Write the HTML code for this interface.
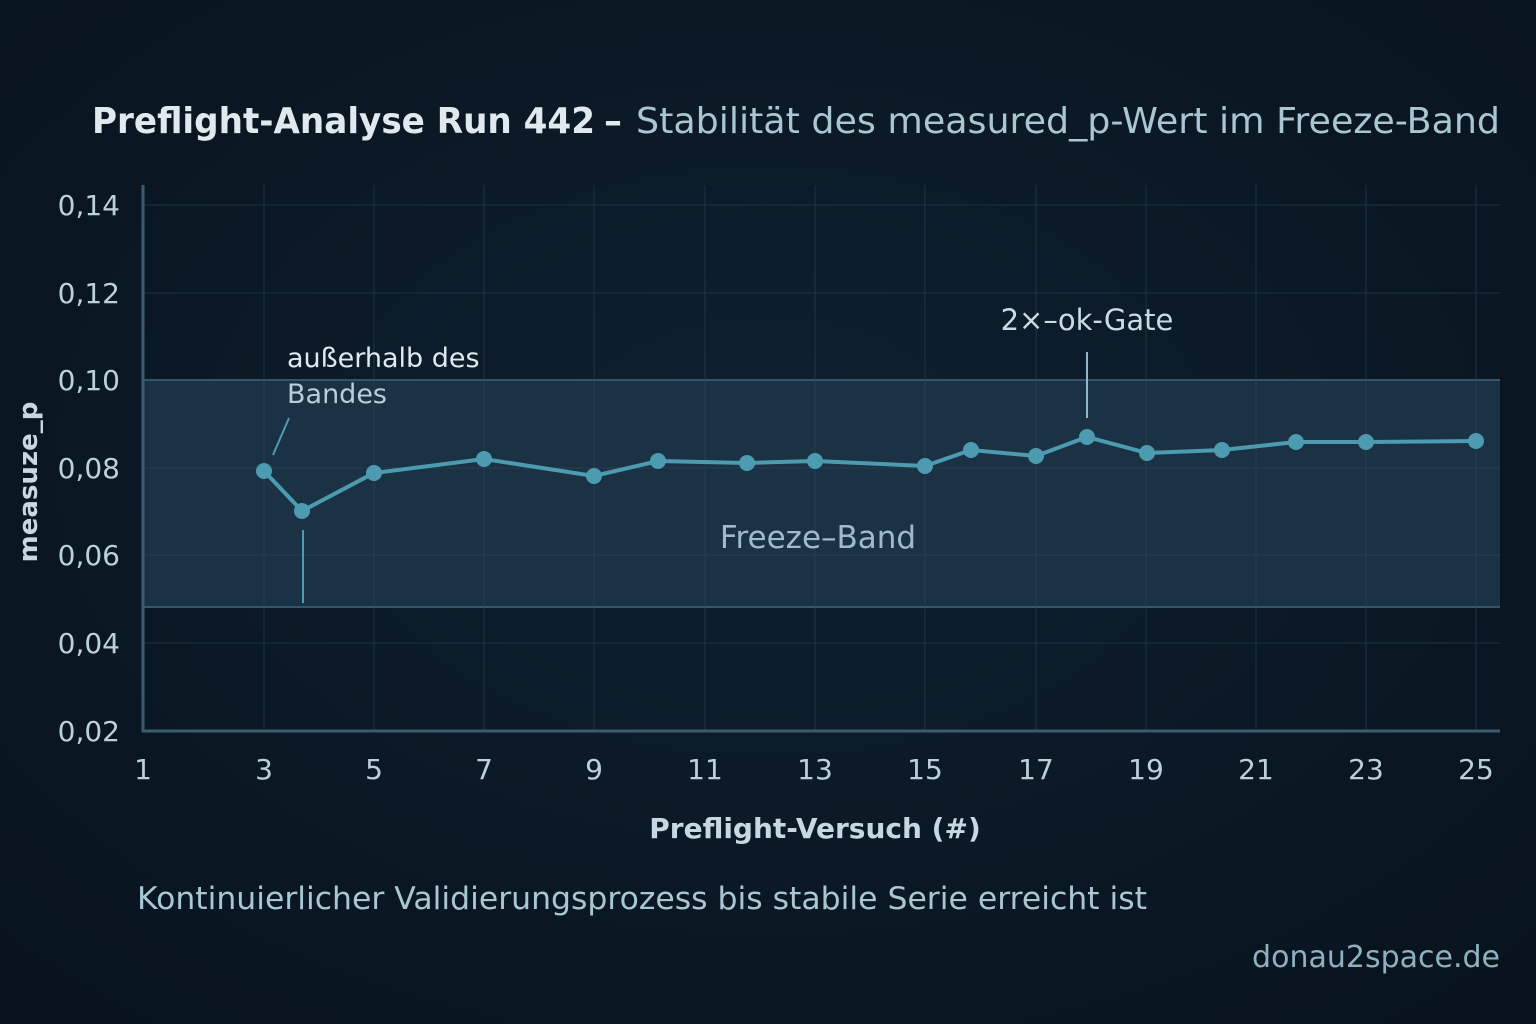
<!DOCTYPE html>
<html><head><meta charset="utf-8"><style>
html,body{margin:0;padding:0;background:#0b1824;}
svg{display:block;}
text{font-family:"DejaVu Sans","Liberation Sans",sans-serif;}
</style></head><body>
<svg width="1536" height="1024" viewBox="0 0 1536 1024" xmlns="http://www.w3.org/2000/svg">
<defs><radialGradient id="bg" cx="50%" cy="45%" r="70%"><stop offset="0" stop-color="#0f2030"/><stop offset="1" stop-color="#08131d"/></radialGradient></defs>
<rect width="1536" height="1024" fill="url(#bg)"/>
<text x="92" y="133" font-size="36" fill="#dfe9ee" font-weight="bold" textLength="503" lengthAdjust="spacingAndGlyphs">Preflight-Analyse Run 442</text>
<text x="604" y="133" font-size="36" fill="#dfe9ee" font-weight="bold">–</text>
<text x="636" y="133" font-size="36" fill="#a9c6d2" textLength="864" lengthAdjust="spacingAndGlyphs">Stabilität des measured_p-Wert im Freeze-Band</text>
<rect x="143" y="380" width="1357" height="227" fill="#1b3244"/>
<line x1="143" y1="380" x2="1500" y2="380" stroke="#33566b" stroke-width="2"/>
<line x1="143" y1="607" x2="1500" y2="607" stroke="#33566b" stroke-width="2"/>
<g stroke="#2a4558" stroke-width="1" opacity="0.6">
<line x1="143" y1="205" x2="1500" y2="205"/><line x1="143" y1="293" x2="1500" y2="293"/>
<line x1="143" y1="468" x2="1500" y2="468"/><line x1="143" y1="555" x2="1500" y2="555"/>
<line x1="143" y1="643" x2="1500" y2="643"/>
<line x1="264" y1="185" x2="264" y2="731"/><line x1="374" y1="185" x2="374" y2="731"/>
<line x1="484" y1="185" x2="484" y2="731"/><line x1="594" y1="185" x2="594" y2="731"/>
<line x1="705" y1="185" x2="705" y2="731"/><line x1="815" y1="185" x2="815" y2="731"/>
<line x1="925" y1="185" x2="925" y2="731"/><line x1="1036" y1="185" x2="1036" y2="731"/>
<line x1="1146" y1="185" x2="1146" y2="731"/><line x1="1256" y1="185" x2="1256" y2="731"/>
<line x1="1366" y1="185" x2="1366" y2="731"/><line x1="1476" y1="185" x2="1476" y2="731"/>
</g>
<line x1="143" y1="185" x2="143" y2="732" stroke="#3b5c70" stroke-width="3"/>
<line x1="142" y1="731" x2="1500" y2="731" stroke="#3b5c70" stroke-width="3"/>
<g font-size="28" fill="#bcd0da" text-anchor="end">
<text x="120" y="215">0,14</text><text x="120" y="303">0,12</text><text x="120" y="390">0,10</text>
<text x="120" y="478">0,08</text><text x="120" y="565">0,06</text><text x="120" y="653">0,04</text><text x="120" y="741">0,02</text>
</g>
<g font-size="28" fill="#bcd0da" text-anchor="middle">
<text x="143" y="779">1</text><text x="264" y="779">3</text><text x="374" y="779">5</text><text x="484" y="779">7</text>
<text x="594" y="779">9</text><text x="705" y="779">11</text><text x="815" y="779">13</text><text x="925" y="779">15</text>
<text x="1036" y="779">17</text><text x="1146" y="779">19</text><text x="1256" y="779">21</text><text x="1366" y="779">23</text><text x="1476" y="779">25</text>
</g>
<text transform="translate(37,482) rotate(-90)" font-size="26" font-weight="bold" fill="#c8d8e0" text-anchor="middle">measuze_p</text>
<text x="815" y="838" font-size="28" font-weight="bold" fill="#c8d8e0" text-anchor="middle">Preflight-Versuch (#)</text>
<polyline fill="none" stroke="#4d9bb1" stroke-width="4" points="264,471 302,511 374,473 484,459 594,476 658,461 747,463 815,461 925,466 971,450 1036,456 1087,437 1147,453 1222,450 1296,442 1366,442 1476,441"/>
<g fill="#4d9bb1">
<circle cx="264" cy="471" r="8"/><circle cx="302" cy="511" r="8"/><circle cx="374" cy="473" r="8"/><circle cx="484" cy="459" r="8"/>
<circle cx="594" cy="476" r="8"/><circle cx="658" cy="461" r="8"/><circle cx="747" cy="463" r="8"/><circle cx="815" cy="461" r="8"/>
<circle cx="925" cy="466" r="8"/><circle cx="971" cy="450" r="8"/><circle cx="1036" cy="456" r="8"/><circle cx="1087" cy="437" r="8"/>
<circle cx="1147" cy="453" r="8"/><circle cx="1222" cy="450" r="8"/><circle cx="1296" cy="442" r="8"/><circle cx="1366" cy="442" r="8"/><circle cx="1476" cy="441" r="8"/>
</g>
<line x1="289" y1="418" x2="273" y2="455" stroke="#4d9bb1" stroke-width="2"/>
<line x1="303" y1="530" x2="303" y2="603" stroke="#4d9bb1" stroke-width="2"/>
<line x1="1087" y1="352" x2="1087" y2="418" stroke="#8fb8c8" stroke-width="2"/>
<text x="287" y="367" font-size="27" fill="#dfe9ee">außerhalb des</text>
<text x="287" y="403" font-size="27" fill="#b6cfda">Bandes</text>
<text x="1087" y="330" font-size="29" fill="#c8dce4" text-anchor="middle">2×–ok-Gate</text>
<text x="818" y="548" font-size="31" fill="#9cbccb" text-anchor="middle">Freeze–Band</text>
<text x="137" y="909" font-size="31" fill="#a9c6d2" textLength="1010" lengthAdjust="spacingAndGlyphs">Kontinuierlicher Validierungsprozess bis stabile Serie erreicht ist</text>
<text x="1500" y="967" font-size="30" fill="#8fb0bf" text-anchor="end">donau2space.de</text>
</svg>
</body></html>
